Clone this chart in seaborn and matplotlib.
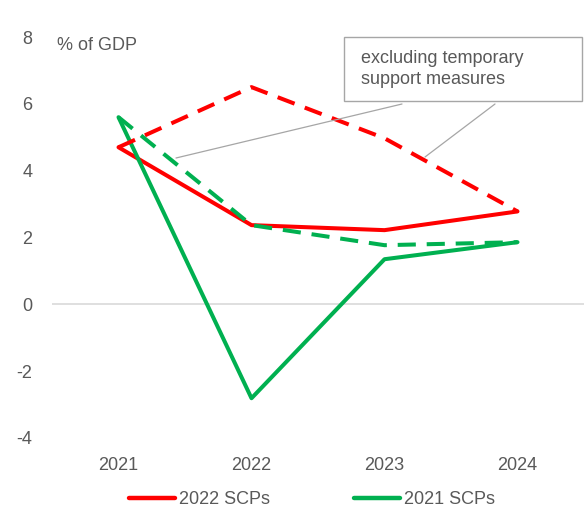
import matplotlib
matplotlib.use("Agg")
import matplotlib.pyplot as plt
import seaborn as sns
import pandas as pd

years = ["2021", "2022", "2023", "2024"]
scp2022 = [4.7, 2.37, 2.22, 2.78]
scp2022_excl = [4.7, 6.5, 4.97, 2.78]
scp2021 = [5.6, -2.81, 1.35, 1.86]
scp2021_excl = [5.6, 2.37, 1.77, 1.86]

RED = "#ff0000"
GREEN = "#00b050"
GREY = "#595959"
FS = 13

sns.set_theme(style="white")
plt.rcParams["font.family"] = ["Liberation Sans", "DejaVu Sans"]

fig = plt.figure(figsize=(5.88, 5.11), dpi=100)
ax = fig.add_axes([52 / 588, 1 - 438 / 511, (584 - 52) / 588, (438 - 37) / 511])

x = list(range(len(years)))
dash = (0, (4.5, 2.7))
series = [
    (scp2022, RED, "-", "2022 SCPs"),
    (scp2021, GREEN, "-", "2021 SCPs"),
    (scp2022_excl, RED, dash, None),
    (scp2021_excl, GREEN, dash, None),
]
for vals, color, ls, label in series:
    df = pd.DataFrame({"x": x, "v": vals})
    sns.lineplot(data=df, x="x", y="v", color=color, linewidth=2.9,
                 linestyle=ls, label=label, ax=ax, legend=False)

ax.axhline(0, color="#d9d9d9", linewidth=1.2, zorder=0)
ax.set_xlim(-0.5, 3.5)
ax.set_ylim(-4, 8)
ax.set_yticks([-4, -2, 0, 2, 4, 6, 8])
ax.set_yticklabels(["-4", "-2", "0", "2", "4", "6", "8"])
ax.set_xticks(x)
ax.set_xticklabels(years)
ax.tick_params(axis="both", colors=GREY, labelsize=FS, length=0)
ax.tick_params(axis="y", pad=14)
ax.tick_params(axis="x", pad=14)
ax.set_xlabel("")
ax.set_ylabel("")
for s in ax.spines.values():
    s.set_visible(False)

ax.text(57 / 588, 1 - 46 / 511, "% of GDP", transform=fig.transFigure,
        fontsize=FS, color=GREY, va="center", ha="left")

# callout box with two leader lines
fig.text(361 / 588, 1 - 69 / 511, "excluding temporary\nsupport measures",
         fontsize=FS, color=GREY, va="center", ha="left", linespacing=1.3)
box = plt.Rectangle((344 / 588, 1 - 101 / 511), (582 - 344) / 588, (101 - 37) / 511,
                    transform=fig.transFigure, fill=False, edgecolor="#a6a6a6",
                    linewidth=1.0)
fig.add_artist(box)
for (x0, y0), (x1, y1) in [((402, 104), (176, 158)), ((495, 104), (425, 157))]:
    fig.add_artist(plt.Line2D([x0 / 588, x1 / 588], [1 - y0 / 511, 1 - y1 / 511],
                              transform=fig.transFigure, color="#a6a6a6", linewidth=0.9))

handles = [plt.Line2D([], [], color=RED, linewidth=3.2),
           plt.Line2D([], [], color=GREEN, linewidth=3.2)]
fig.legend(handles, ["2022 SCPs", "2021 SCPs"], loc="center",
           bbox_to_anchor=(312 / 588, 1 - 500 / 511), ncol=2, frameon=False,
           fontsize=FS, labelcolor=GREY, handlelength=2.55, handletextpad=0.22,
           columnspacing=4.7)

fig.savefig("out.png", dpi=100)
